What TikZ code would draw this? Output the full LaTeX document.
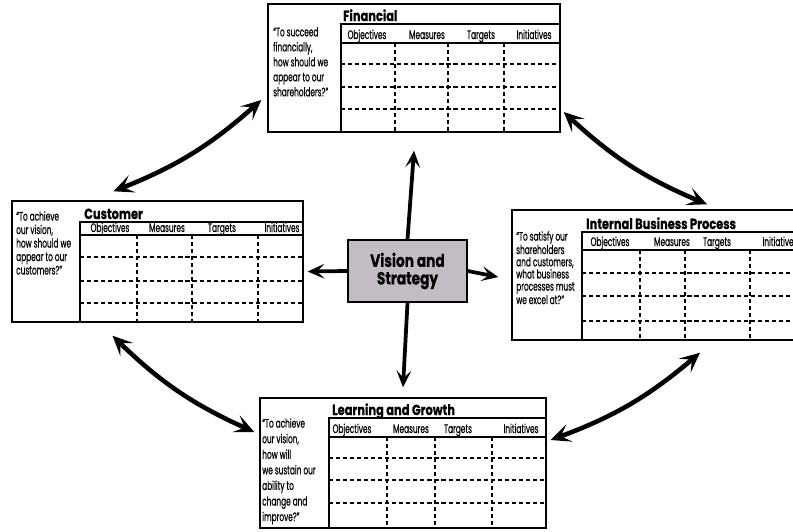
\documentclass[tikz,border=0pt]{standalone}
\usepackage{fontspec}
\setmainfont{Poppins}[FakeStretch=0.6,FakeBold=0.5]
\newfontfamily\titlefont{Poppins}[FakeStretch=0.78,FakeBold=0.6]
\usetikzlibrary{arrows.meta,fit}
\definecolor{vision_fill}{RGB}{196,188,196}
\tikzset{
    bscframe/.style={draw,line width=1.2pt,inner sep=0pt},
    bsctable/.style={line width=1.6pt},
    bscgrid/.style={line width=1.1pt,dash pattern=on 3.5pt off 2.5pt},
    bschead/.style={anchor=base,inner sep=0pt,font=\fontsize{10.5}{11}\selectfont},
    bsctitle/.style={anchor=base west,inner sep=0pt,font=\titlefont\bfseries\fontsize{12.5}{13}\selectfont},
    bscask/.style={anchor=north west,align=left,inner sep=0pt,font=\fontsize{10.5}{#1}\selectfont},
    link/.style={{Stealth[length=6mm,width=5.5mm,inset=2.8mm]}-{Stealth[length=6mm,width=5.5mm,inset=2.8mm]},line width=3.9pt},
    spoke/.style={-{Stealth[length=5mm,width=4.4mm,inset=2.2mm]},line width=3.2pt},
}

\begin{document}
\begin{tikzpicture}[x=0.03cm,y=-0.03cm]
  \clip (0,0) rectangle (793,531);
  \fill[white] (0,0) rectangle (793,531);
  % outer frames
  \node[bscframe,fit={(268,4) (560,132)}] (fin) {};
  \node[bscframe,fit={(12,201) (303,322)}] (cus) {};
  \node[bscframe,fit={(512,210) (812,340)}] (ibp) {};
  \node[bscframe,fit={(260,398) (546,528)}] (lag) {};
  % financial
  \draw[bsctable] (341,132) |- (560,24);
  \draw[line width=1.1pt] (341,43) -- (560,43);
  \foreach \y in {64,87,109} \draw[bscgrid] (341,\y) -- (560,\y);
  \foreach \x in {395,448,504} \draw[bscgrid] (\x,43) -- (\x,132);
  \node[bsctitle] (fin_title) at (343,21) {Financial};
  \node[bschead] (fin_h1) at (367,39) {Objectives};
  \node[bschead] (fin_h2) at (427,39) {Measures};
  \node[bschead] (fin_h3) at (481,39) {Targets};
  \node[bschead] (fin_h4) at (534,39) {Initiatives};
  \node[bscask=12.8pt] (fin_ask) at (273,27) {“To succeed\\financially,\\how should we\\appear to our\\shareholders?”};
  % customer
  \draw[bsctable] (80,322) |- (303,222);
  \draw[line width=1.1pt] (80,235) -- (303,235);
  \foreach \y in {257,281,303} \draw[bscgrid] (80,\y) -- (303,\y);
  \foreach \x in {137,192,258} \draw[bscgrid] (\x,235) -- (\x,322);
  \node[bsctitle] (cus_title) at (84,219) {Customer};
  \node[bschead] (cus_h1) at (110,232) {Objectives};
  \node[bschead] (cus_h2) at (167,232) {Measures};
  \node[bschead] (cus_h3) at (222,232) {Targets};
  \node[bschead] (cus_h4) at (282,232) {Initiatives};
  \node[bscask=11.5pt] (cus_ask) at (16,211) {“To achieve\\our vision,\\how should we\\appear to our\\customers?”};
  % internal business process
  \draw[bsctable] (582,340) |- (812,232);
  \draw[line width=1.1pt] (582,250) -- (812,250);
  \foreach \y in {273,296,321} \draw[bscgrid] (582,\y) -- (812,\y);
  \foreach \x in {640,685,750} \draw[bscgrid] (\x,250) -- (\x,340);
  \node[bsctitle] (ibp_title) at (586,229) {Internal Business Process};
  \node[bschead] (ibp_h1) at (610,246) {Objectives};
  \node[bschead] (ibp_h2) at (672,246) {Measures};
  \node[bschead] (ibp_h3) at (717,246) {Targets};
  \node[bschead] (ibp_h4) at (780,246) {Initiatives};
  \node[bscask=10.4pt] (ibp_ask) at (516,231) {“To satisfy our\\shareholders\\and customers,\\what business\\processes must\\we excel at?”};
  % learning and growth
  \draw[bsctable] (329,528) |- (546,418);
  \draw[line width=1.1pt] (329,437) -- (546,437);
  \foreach \y in {458,480,503} \draw[bscgrid] (329,\y) -- (546,\y);
  \foreach \x in {387,435,492} \draw[bscgrid] (\x,437) -- (\x,528);
  \node[bsctitle] (lag_title) at (332,415) {Learning and Growth};
  \node[bschead] (lag_h1) at (352,433) {Objectives};
  \node[bschead] (lag_h2) at (411,433) {Measures};
  \node[bschead] (lag_h3) at (458,433) {Targets};
  \node[bschead] (lag_h4) at (521,433) {Initiatives};
  \node[bscask=13.3pt] (lag_ask) at (262,418) {“To achieve\\our vision,\\how will\\we sustain our\\ability to\\change and\\improve?”};
  % vision and strategy
  \node[draw,line width=1.4pt,fill=vision_fill,minimum width=3.57cm,minimum height=1.86cm,
        align=center,font=\titlefont\bfseries\fontsize{15}{15}\selectfont] (vis) at (407.5,271) {Vision and\\Strategy};
  \draw[spoke] (vis.north) -- ([shift={(0,18)}]fin.south);
  \draw[spoke] (vis.south) -- ([shift={(0,-10)}]lag.north);
  \draw[spoke] (vis.west) -- ([shift={(4,10)}]cus.east);
  \draw[spoke] (vis.east) -- ([shift={(-13,2)}]ibp.west);
  % links between perspectives
  \draw[link] ([shift={(-6,32)}]fin.west) to[bend left=10] ([shift={(-44,-9)}]cus.north);
  \draw[link] ([shift={(3,44)}]fin.east) to[bend right=10] ([shift={(45,-5)}]ibp.north);
  \draw[link] ([shift={(-45,13)}]cus.south) to[bend right=10] ([shift={(-5,-31)}]lag.west);
  \draw[link] ([shift={(38,12)}]ibp.south) to[bend left=10] ([shift={(4,-23)}]lag.east);
\end{tikzpicture}
\end{document}
